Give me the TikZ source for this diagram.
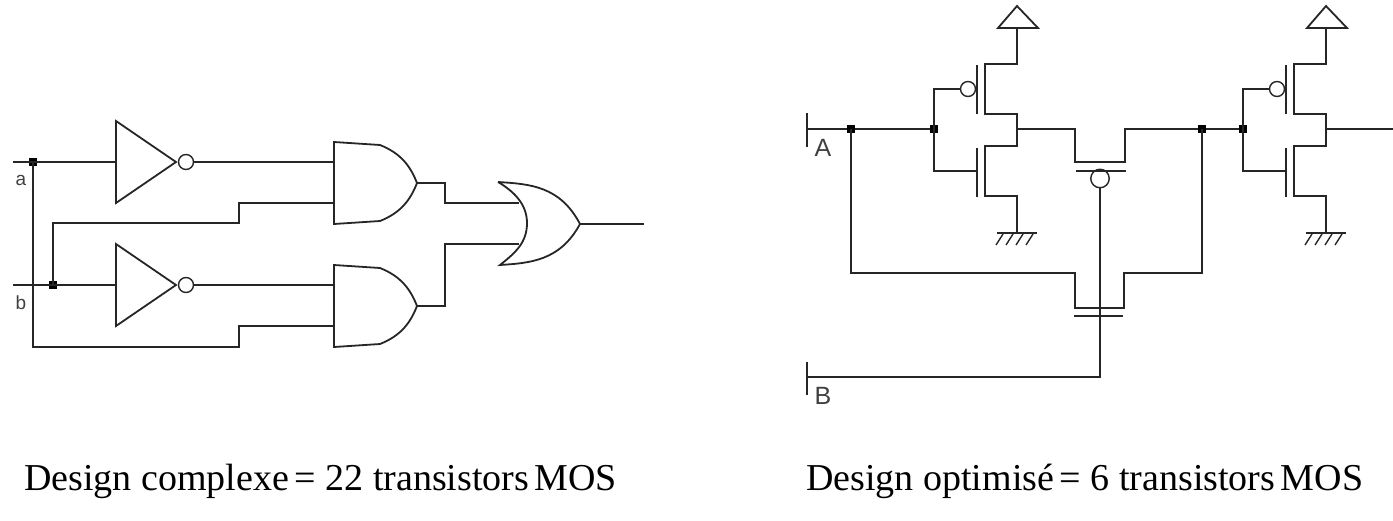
\documentclass[tikz,border=0pt]{standalone}
\usepackage{fontspec}
\setmainfont{Liberation Serif}
\newfontfamily\labelfont{Liberation Sans}
\usetikzlibrary{positioning}

\tikzset{
  wire/.style={line width=1.8pt, black!85},
  junction/.style={rectangle, fill=black, inner sep=0, minimum size=7.5pt},
  bubble/.style={circle, draw, line width=1.4pt, black!85, fill=white, inner sep=0, minimum size=15pt},
  pinlabel/.style={text=black!75, inner sep=0, font=\labelfont\fontsize{19}{19}\selectfont},
  pinlabelbig/.style={pinlabel, font=\labelfont\fontsize{25}{25}\selectfont},
  caption/.style={inner sep=0, anchor=base west, font=\fontsize{38}{38}\selectfont}
}

\begin{document}
\begin{tikzpicture}[x=1pt, y=-1pt]
  \useasboundingbox (0, 0) rectangle (1393, 520);

  % inverter and and-gate, twice
  \foreach \n/\dy in {1/0, 2/123} {
    \begin{scope}[shift={(0, \dy)}]
      \coordinate (inv\n) at (116, 162);
      \coordinate (and\n a) at (334, 162);
      \coordinate (and\n b) at (334, 203);
      \coordinate (and\n out) at (417, 183);
      \node[bubble] (bub\n) at (186, 162) {};
      \draw[wire] (116, 121) -- (176, 162) -- (116, 203) -- cycle;
      \draw[wire] (bub\n) -- (and\n a);
      \draw[wire] (334, 142) -- (380, 145) .. controls (400, 153) and (410, 165) .. (and\n out)
        .. controls (410, 201) and (400, 213) .. (380, 221) -- (334, 224) -- cycle;
    \end{scope}
  }

  \coordinate (ain) at (13, 162);
  \coordinate (bin) at (13, 285);
  \node[junction] (ja) at (33, 162) {};
  \node[junction] (jb) at (53, 285) {};
  \node[pinlabel] (la) at (21, 180) {a};
  \node[pinlabel] (lb) at (21, 303) {b};

  \draw[wire] (ain) -- (inv1);
  \draw[wire] (bin) -- (inv2);
  \draw[wire] (jb.center) -- (53, 223) -- (239, 223) -- (239, 203) -- (and1b);
  \draw[wire] (ja.center) -- (33, 347) -- (239, 347) -- (239, 326) -- (and2b);

  % or-gate
  \coordinate (ora) at (519, 203);
  \coordinate (orb) at (519, 244);
  \coordinate (orout) at (580, 224);
  \coordinate (out) at (644, 224);
  \draw[wire] (498, 182) .. controls (515, 192) and (527, 205) .. (527, 223)
    .. controls (527, 243) and (515, 253) .. (500, 265)
    .. controls (530, 263) and (560, 261) .. (orout)
    .. controls (560, 186) and (530, 184) .. (498, 182);
  \draw[wire] (and1out) -- (445, 183) -- (445, 203) -- (ora);
  \draw[wire] (and2out) -- (445, 306) -- (445, 244) -- (orb);
  \draw[wire] (orout) -- (out);

  % cmos inverter, twice
  \foreach \n/\dx in {1/0, 2/309} {
    \begin{scope}[shift={(\dx, 0)}]
      \node[junction] (jg\n) at (934, 129) {};
      \node[bubble] (pg\n) at (968, 89) {};
      \coordinate (ng\n) at (977, 171);
      \coordinate (vdd\n) at (1017, 28);
      \coordinate (gnd\n) at (1017, 233);
      \coordinate (drain\n) at (1017, 129);
      \draw[wire] (vdd\n) -- (998, 28) -- (1017, 6) -- (1038, 28) -- cycle;
      \draw[wire] (977, 65) -- (977, 114);
      \draw[wire] (977, 148) -- (977, 197);
      \draw[wire] (vdd\n) -- (1017, 64) -- (985, 64) -- (985, 114) -- (1017, 114)
        -- (1017, 146) -- (985, 146) -- (985, 196) -- (1017, 196) -- (gnd\n);
      \draw[wire] (pg\n) -- (934, 89) -- (934, 171) -- (ng\n);
      \draw[wire] (997, 233) -- (1037, 233);
      \foreach \x in {1003, 1013, 1023, 1033} {
        \draw[wire, line width=1.4pt] (\x, 234) -- (\x-7, 245);
      }
    \end{scope}
  }

  % pass gate
  \node[junction] (jA) at (851, 129) {};
  \node[junction] (jout) at (1202, 129) {};
  \node[bubble, minimum size=18.5pt] (tgb) at (1100, 178.5) {};
  \coordinate (Abar) at (807, 129);
  \coordinate (Bbar) at (807, 377);
  \coordinate (outr) at (1393, 129);
  \draw[wire] (807, 113) -- (807, 147);
  \draw[wire] (807, 362) -- (807, 395);
  \draw[wire] (Abar) -- (jA) -- (jg1);
  \draw[wire] (drain1) -- (1075, 129) -- (1075, 162) -- (1125, 162) -- (1125, 129) -- (jout) -- (jg2);
  \draw[wire] (drain2) -- (outr);
  \draw[wire] (1076, 171) -- (1126, 171);
  \draw[wire] (jA.center) -- (851, 273) -- (1075, 273) -- (1075, 308) -- (1124, 308) -- (1124, 273)
    -- (1202, 273) -- (jout.center);
  \draw[wire] (1074, 316) -- (1123, 316);
  \draw[wire] (Bbar) -- (1100, 377) -- (tgb);
  \node[pinlabelbig] (lA) at (823, 148) {A};
  \node[pinlabelbig] (lB) at (823, 396) {B};

  \node[caption] (capl) at (24, 490) {Design complexe\hspace{-4pt} = 22 transistors\hspace{-4pt} MOS};
  \node[caption] (capr) at (806, 490) {Design optimisé\hspace{-4pt} = 6 transistors\hspace{-4pt} MOS};
\end{tikzpicture}
\end{document}
